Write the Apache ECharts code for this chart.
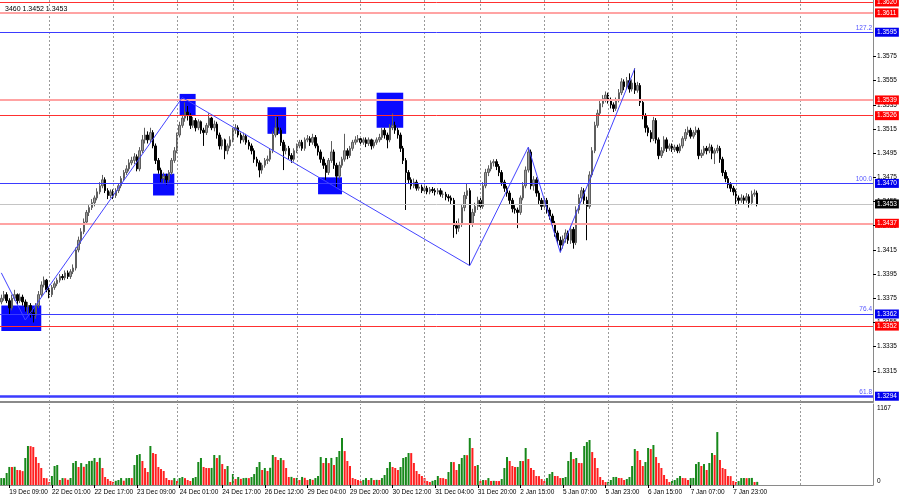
<!DOCTYPE html>
<html><head><meta charset="utf-8">
<script src="https://cdn.jsdelivr.net/npm/echarts@6/dist/echarts.min.js"></script>
<style>html,body{margin:0;padding:0;background:#fff}#c{width:900px;height:500px}</style>
</head><body><div id="c"></div>
<script>
// Hourly sessions: [day, first hour, number of hourly bars]
const sessions = [['19 Dec',6,18],['22 Dec',0,24],['23 Dec',0,24],['24 Dec',0,21],['26 Dec',0,24],['29 Dec',0,24],['30 Dec',0,24],['31 Dec',0,21],['2 Jan',0,24],['5 Jan',0,24],['6 Jan',0,24],['7 Jan',0,24],['8 Jan',0,24],['9 Jan',0,24]];
// Prices in units of 0.0001 (13375 = 1.3375)
const open = [13372,13375,13378,13373,13367,13375,13378,13373,13376,13372,
13368,13369,13363,13361,13369,13378,13386,13390,13382,13378,
13384,13387,13390,13393,13392,13396,13393,13397,13400,13415,
13423,13430,13438,13446,13450,13454,13458,13463,13468,13473,
13464,13460,13463,13460,13464,13468,13474,13479,13482,13487,
13489,13492,13482,13497,13506,13510,13506,13512,13501,13489,
13481,13474,13476,13473,13479,13489,13497,13510,13518,13524,
13529,13526,13518,13522,13516,13521,13514,13512,13518,13524,
13516,13519,13510,13501,13506,13497,13501,13506,13514,13516,
13510,13506,13509,13504,13501,13497,13490,13487,13481,13485,
13489,13490,13497,13510,13516,13514,13504,13497,13499,13493,
13490,13497,13501,13504,13499,13506,13507,13504,13508,13501,
13496,13490,13485,13479,13489,13496,13485,13476,13485,13490,
13497,13493,13499,13504,13506,13507,13504,13506,13503,13506,
13501,13504,13506,13508,13514,13510,13506,13516,13518,13514,
13510,13499,13489,13479,13473,13468,13471,13466,13467,13464,
13466,13463,13465,13464,13463,13464,13461,13461,13459,13458,
13456,13435,13433,13437,13450,13460,13464,13437,13446,13451,
13456,13451,13468,13479,13482,13487,13488,13484,13479,13471,
13466,13462,13456,13449,13448,13446,13458,13468,13481,13496,
13468,13473,13462,13456,13451,13456,13448,13443,13437,13429,
13423,13419,13424,13429,13423,13432,13421,13448,13458,13464,
13456,13451,13477,13497,13518,13528,13536,13540,13543,13539,
13535,13532,13539,13545,13554,13550,13555,13548,13553,13547,
13551,13537,13526,13516,13512,13507,13522,13506,13493,13497,
13506,13499,13501,13498,13500,13497,13501,13507,13512,13514,
13509,13512,13514,13493,13495,13499,13497,13500,13495,13497,
13499,13490,13479,13474,13469,13466,13463,13458,13456,13458,
13456,13459,13454,13461,13462];
const high = [13378,13381,13380,13375,13378,13382,13379,13379,13378,13374,
13372,13371,13366,13371,13381,13389,13393,13391,13384,13386,
13389,13392,13395,13395,13398,13398,13399,13403,13417,13426,
13433,13441,13448,13452,13457,13460,13466,13471,13477,13475,
13466,13465,13465,13466,13470,13476,13481,13485,13490,13492,
13495,13494,13500,13510,13516,13513,13516,13514,13503,13491,
13483,13479,13478,13481,13491,13500,13512,13521,13527,13537,
13534,13528,13525,13524,13523,13522,13516,13520,13528,13525,
13522,13521,13512,13508,13507,13503,13509,13516,13519,13518,
13512,13512,13511,13506,13503,13499,13492,13489,13487,13491,
13493,13499,13513,13525,13525,13516,13506,13502,13501,13495,
13499,13503,13506,13506,13508,13510,13509,13511,13510,13503,
13498,13492,13487,13491,13505,13498,13487,13488,13492,13511,
13499,13501,13506,13509,13510,13509,13508,13508,13508,13507,
13506,13508,13511,13516,13516,13512,13519,13528,13521,13516,
13512,13501,13491,13481,13475,13474,13473,13470,13469,13468,
13468,13467,13467,13466,13466,13466,13464,13463,13461,13460,
13458,13439,13441,13453,13463,13470,13466,13449,13454,13459,
13458,13471,13482,13485,13489,13490,13490,13486,13481,13473,
13468,13464,13458,13452,13450,13460,13471,13484,13500,13498,
13476,13475,13464,13458,13459,13458,13450,13445,13439,13431,
13426,13427,13432,13431,13435,13434,13451,13461,13467,13466,
13459,13480,13500,13521,13531,13539,13543,13546,13545,13541,
13537,13541,13548,13557,13556,13558,13561,13556,13565,13554,
13553,13539,13528,13518,13514,13525,13524,13508,13500,13509,
13508,13503,13503,13502,13502,13503,13509,13515,13517,13516,
13514,13517,13516,13498,13501,13501,13503,13502,13499,13502,
13501,13492,13481,13476,13471,13468,13465,13460,13461,13460,
13462,13461,13464,13465,13464];
const low = [13370,13373,13371,13362,13365,13373,13370,13371,13369,13364,
13362,13359,13355,13358,13367,13376,13384,13380,13375,13376,
13382,13385,13388,13390,13390,13391,13391,13395,13398,13413,
13420,13428,13436,13443,13448,13451,13456,13461,13466,13462,
13457,13458,13457,13458,13462,13466,13472,13477,13480,13485,
13486,13480,13480,13495,13503,13503,13504,13499,13486,13478,
13471,13470,13469,13471,13477,13487,13495,13508,13516,13521,
13522,13515,13516,13513,13514,13511,13501,13510,13516,13514,
13513,13507,13498,13498,13490,13494,13499,13504,13511,13508,
13503,13504,13502,13498,13494,13487,13484,13475,13478,13483,
13486,13488,13495,13508,13510,13501,13481,13494,13490,13487,
13488,13495,13499,13497,13497,13504,13501,13502,13499,13493,
13487,13482,13473,13477,13487,13482,13467,13474,13483,13488,
13490,13491,13497,13502,13504,13501,13502,13500,13501,13498,
13499,13502,13504,13506,13507,13499,13504,13514,13511,13507,
13496,13486,13448,13470,13465,13466,13464,13464,13462,13462,
13461,13461,13462,13460,13461,13459,13458,13456,13455,13453,
13425,13428,13430,13434,13447,13457,13402,13434,13443,13448,
13448,13449,13466,13476,13480,13484,13481,13476,13468,13463,
13459,13453,13446,13445,13433,13444,13456,13466,13479,13465,
13464,13459,13453,13448,13449,13445,13440,13434,13426,13420,
13413,13416,13421,13420,13420,13416,13419,13445,13455,13453,
13423,13449,13475,13495,13516,13526,13533,13537,13536,13532,
13529,13530,13537,13543,13547,13548,13545,13546,13544,13545,
13534,13523,13512,13509,13504,13505,13503,13490,13491,13495,
13496,13497,13496,13496,13495,13495,13499,13505,13510,13507,
13507,13510,13490,13491,13493,13494,13495,13490,13486,13495,
13487,13476,13471,13466,13463,13460,13452,13453,13454,13453,
13454,13450,13452,13459,13451];
const close = [13375,13378,13373,13367,13375,13378,13373,13376,13372,13368,
13369,13363,13361,13369,13378,13386,13390,13382,13378,13384,
13387,13390,13393,13392,13396,13393,13397,13400,13415,13423,
13430,13438,13446,13450,13454,13458,13463,13468,13473,13464,
13460,13463,13460,13464,13468,13474,13479,13482,13487,13489,
13492,13482,13497,13506,13510,13506,13512,13501,13489,13481,
13474,13476,13473,13479,13489,13497,13510,13518,13524,13529,
13526,13518,13522,13516,13521,13514,13512,13518,13524,13516,
13519,13510,13501,13506,13497,13501,13506,13514,13516,13510,
13506,13509,13504,13501,13497,13490,13487,13481,13485,13489,
13490,13497,13510,13516,13514,13504,13497,13499,13493,13490,
13497,13501,13504,13499,13506,13507,13504,13508,13501,13496,
13490,13485,13479,13489,13496,13485,13476,13485,13490,13497,
13493,13499,13504,13506,13507,13504,13506,13503,13506,13501,
13504,13506,13508,13514,13510,13506,13516,13518,13514,13510,
13499,13489,13479,13473,13468,13471,13466,13467,13464,13466,
13463,13465,13464,13463,13464,13461,13461,13459,13458,13456,
13435,13433,13437,13450,13460,13464,13437,13446,13451,13456,
13451,13468,13479,13482,13487,13488,13484,13479,13471,13466,
13462,13456,13449,13448,13446,13458,13468,13481,13496,13468,
13473,13462,13456,13451,13456,13448,13443,13437,13429,13423,
13419,13424,13429,13423,13432,13421,13448,13458,13464,13456,
13451,13477,13497,13518,13528,13536,13540,13543,13539,13535,
13532,13539,13545,13554,13550,13555,13548,13553,13547,13551,
13537,13526,13516,13512,13507,13522,13506,13493,13497,13506,
13499,13501,13498,13500,13497,13501,13507,13512,13514,13509,
13512,13514,13493,13495,13499,13497,13500,13495,13497,13499,
13490,13479,13474,13469,13466,13463,13458,13456,13458,13456,
13459,13454,13461,13462,13453];
const volume = [100,100,173,260,259,262,216,214,200,389,
562,560,547,403,317,245,101,98,43,130,
274,288,72,100,98,75,101,317,346,259,
316,262,302,345,348,389,331,391,245,115,
86,58,45,60,72,100,62,99,101,100,
288,432,446,346,245,187,562,461,447,259,
230,202,101,72,70,100,58,101,115,99,
72,58,100,115,331,389,259,245,244,246,
432,389,430,302,230,274,43,158,86,115,
88,100,102,99,115,158,259,331,216,245,
202,248,432,403,360,389,358,245,115,117,
100,102,72,116,103,72,86,74,100,130,
403,317,389,316,390,288,403,490,677,489,
346,274,101,86,72,58,73,100,72,101,
71,74,72,100,144,245,331,259,245,216,
259,389,403,461,460,317,202,158,130,100,
58,43,60,72,130,101,99,86,187,331,
330,216,302,389,432,430,677,533,274,288,
58,72,70,100,58,60,58,57,86,245,
403,346,274,259,260,346,345,533,374,245,
216,130,128,86,58,100,158,187,130,129,
100,101,115,346,475,374,389,317,316,562,
619,648,475,389,245,115,72,43,45,72,
115,116,101,100,72,86,115,274,518,490,
360,274,331,533,518,576,403,317,245,144,
86,43,58,72,100,130,101,99,72,100,
102,302,331,274,302,216,317,461,432,763,
360,245,230,130,128,58,43,57,100,101,
99,100,102,43,45];
const priceTicks = [1.3575,1.3555,1.3535,1.3515,1.3495,1.3475,1.3455,1.3435,1.3415,1.3395,1.3375,1.3355,1.3335,1.3315];
const volumeTicks = [0,1167];
const redLevels = [1.3620,1.3526,1.3352];
const pinkLevels = [1.3611,1.3539,1.3437];
const fibLevels = [1.3595,1.3470,1.3362,1.3294];
const fibRatios = ['127.2','100.0','76.4','61.8'];
const lastPrice = 1.3453;
const zigzag = [[0,13396],[9,13357],[68,13541],[176,13402],[198,13500],[210,13413],[238,13565]];
// boxes: [startBar, topPrice, endBar, bottomPrice]
const boxes = [[0,13369,15,13348],[57,13478,65,13460],[67,13544,73,13526],[100,13533,107,13511],[119,13475,128,13461],[141,13545,151,13516]];
const header = '3460 1.3452 1.3453';

const SLOTS = 328;
const P = v => v / 10000;
const FONT = 'Liberation Sans';
const FS = 6.5;

const categories = [], dayStarts = [];
sessions.forEach(([d, h0, n]) => {
  dayStarts.push(categories.length);
  for (let k = 0; k < n; k++) categories.push(d + ' ' + String(h0 + k).padStart(2, '0') + ':00');
});
while (categories.length < SLOTS) categories.push('');
categories.length = SLOTS;
const lastIdx = close.length - 1;
const labelInterval = (idx) => idx % 16 === 3 && idx <= lastIdx;

const candles = close.map((c, i) => [P(open[i]), P(c), P(low[i]), P(high[i])]);
const vols = volume.map((v, i) => ({
  value: v,
  itemStyle: { color: (i > 0 && v < volume[i - 1]) ? '#ff1f1f' : '#17881a' }
}));

const pxPerUnit = 12093;
const yMax = 1.3620 + 2 / pxPerUnit;
const yMin = 1.3620 - 400 / pxPerUnit;

const vgrid = dayStarts.slice(1).filter(i => i < SLOTS).map(i => ({ xAxis: i }));
const vgridStyle = { color: '#9a9a9a', width: 1, type: [2, 2] };

function levelLine(v, color, width, box) {
  return {
    yAxis: v,
    lineStyle: { color: color, width: width, type: 'solid' },
    label: {
      show: true, position: 'end', distance: 2, formatter: v.toFixed(4),
      backgroundColor: box, color: '#fff', fontSize: FS, fontFamily: FONT,
      padding: [1, 2, 0, 2], lineHeight: 8
    }
  };
}
const levelData = [];
levelData.push(levelLine(lastPrice, '#c4c4c4', 1, '#000000'));
pinkLevels.forEach(v => levelData.push(levelLine(v, '#ffa3a3', 2, '#ff0000')));
redLevels.forEach(v => levelData.push(levelLine(v, '#ff3030', 1, '#ff0000')));
const fibLabelData = [];
fibLevels.forEach((v, k) => {
  levelData.push(levelLine(v, '#3b3bff', k === fibLevels.length - 1 ? 2.5 : 1, '#0000ee'));
  fibLabelData.push({
    yAxis: v, lineStyle: { color: 'rgba(0,0,0,0)', width: 0 },
    label: { show: true, position: 'insideEndTop', distance: 1, formatter: fibRatios[k],
      color: '#5555ff', fontSize: FS, fontFamily: FONT }
  });
});

const option = {
  animation: false,
  backgroundColor: '#ffffff',
  title: { text: header, left: 0, top: 1,
    textStyle: { fontSize: 7, fontWeight: 'normal', color: '#000', fontFamily: FONT } },
  grid: [
    { left: 0, right: 27, top: 0, height: 402 },
    { left: 0, right: 27, top: 404, bottom: 15 }
  ],
  xAxis: [
    { type: 'category', gridIndex: 0, data: categories, boundaryGap: true,
      axisLine: { show: true, lineStyle: { color: '#8a8a8a', width: 2 } },
      axisTick: { show: false }, axisLabel: { show: false }, splitLine: { show: false } },
    { type: 'category', gridIndex: 1, data: categories, boundaryGap: true,
      axisLine: { show: true, lineStyle: { color: '#8a8a8a', width: 1 } },
      axisTick: { show: true, interval: labelInterval, alignWithLabel: true, length: 3, lineStyle: { color: '#000' } },
      axisLabel: { show: true, interval: labelInterval, align: 'left', margin: 4, fontSize: FS, color: '#000', fontFamily: FONT },
      splitLine: { show: false } }
  ],
  yAxis: [
    { type: 'value', gridIndex: 0, position: 'right', min: yMin, max: yMax,
      splitLine: { show: false },
      axisLine: { show: true, lineStyle: { color: '#8a8a8a', width: 1 } },
      axisTick: { show: true, customValues: priceTicks, length: 3, lineStyle: { color: '#000' } },
      axisLabel: { show: true, customValues: priceTicks, formatter: v => v.toFixed(4), margin: 4,
        fontSize: FS, color: '#000', fontFamily: FONT } },
    { type: 'value', gridIndex: 1, position: 'right', min: 0, max: 1167,
      splitLine: { show: false },
      axisLine: { show: true, lineStyle: { color: '#8a8a8a', width: 1 } },
      axisTick: { show: false },
      axisLabel: { show: true, customValues: volumeTicks, margin: 4, fontSize: FS, color: '#000', fontFamily: FONT,
        formatter: v => v > 0 ? '{t|' + v + '}' : '{b|' + v + '}',
        rich: { t: { fontSize: FS, fontFamily: FONT, color: '#000', padding: [8, 0, 0, 0] },
                b: { fontSize: FS, fontFamily: FONT, color: '#000', padding: [0, 0, 8, 0] } } } }
  ],
  series: [
    { name: 'frame', type: 'line', xAxisIndex: 0, yAxisIndex: 0, data: [], z: 1, silent: true,
      markArea: { silent: true, itemStyle: { color: '#0a0aff', opacity: 1 },
        data: boxes.map(b => [{ coord: [b[0], P(b[1])] }, { coord: [b[2], P(b[3])] }]) },
      markLine: { silent: true, symbol: ['none', 'none'], label: { show: false },
        lineStyle: vgridStyle, data: vgrid } },
    { name: 'price', type: 'candlestick', xAxisIndex: 0, yAxisIndex: 0, data: candles, z: 3,
      barWidth: 2,
      itemStyle: { color: '#9c9c9c', color0: '#000000', borderColor: '#5e5e5e', borderColor0: '#000000', borderWidth: 1 } },
    { name: 'levels', type: 'line', xAxisIndex: 0, yAxisIndex: 0, data: [], z: 4, silent: true,
      markLine: { silent: true, precision: 5, symbol: ['none', 'none'], data: levelData } },
    { name: 'fibText', type: 'line', xAxisIndex: 0, yAxisIndex: 0, data: [], z: 4, silent: true,
      markLine: { silent: true, precision: 5, symbol: ['none', 'none'], data: fibLabelData } },
    { name: 'zigzag', type: 'line', xAxisIndex: 0, yAxisIndex: 0, z: 5, silent: true,
      data: zigzag.map(p => [p[0], P(p[1])]), symbol: 'none',
      lineStyle: { color: '#4444ff', width: 1 } },
    { name: 'volume', type: 'bar', xAxisIndex: 1, yAxisIndex: 1, data: vols, barWidth: 2, z: 3,
      markLine: { silent: true, symbol: ['none', 'none'], label: { show: false },
        lineStyle: vgridStyle, data: vgrid } }
  ]
};
const chart = echarts.init(document.getElementById('c'), null, { renderer: 'canvas' });
chart.setOption(option);
</script>
</body></html>
